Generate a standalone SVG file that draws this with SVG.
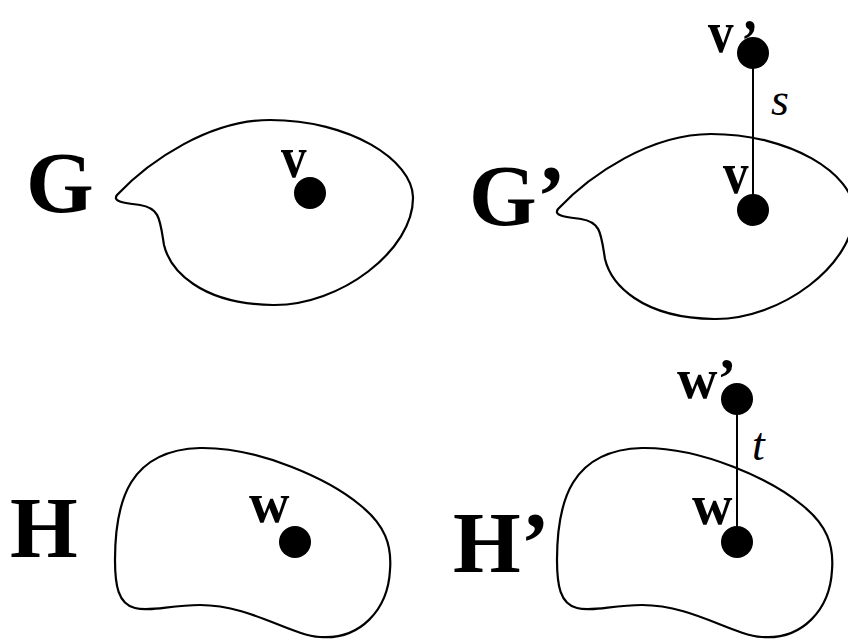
<svg xmlns="http://www.w3.org/2000/svg" width="848" height="640" viewBox="0 0 848 640">
<style>
.outline{fill:none;stroke:#000;stroke-width:2.2}
.edge{stroke:#000;stroke-width:2}
.dot{fill:#000}
.big{font-family:"Liberation Serif","Times New Roman",serif;font-weight:bold;font-size:87px;fill:#000}
.lv{font-family:"Liberation Serif","Times New Roman",serif;font-weight:bold;font-size:60px;fill:#000}
.lw{font-family:"Liberation Serif","Times New Roman",serif;font-weight:bold;font-size:56px;fill:#000}
.it{font-family:"Liberation Serif","Times New Roman",serif;font-style:italic;font-size:46px;fill:#000}
</style>
<defs>
<path id="gshape" d="M117,195 C150,160 210,120 270,120 C350,120 412,160 413,197 C414,250 340,306 273,305 C200,304 170,270 164,245 C160,220 160,208 140,205 C125,203 112,202 117,195 Z"/>
<path id="hshape" d="M115,560 C115,500 130,450 200,448 C260,447 330,480 360,505 C385,525 392,545 390,570 C388,610 360,640 320,637 C290,635 250,605 200,605 C170,605 150,612 135,608 C118,604 115,585 115,560 Z"/>
</defs>
<g id="G">
<use href="#gshape" class="outline"/>
<text class="big" x="26" y="212">G</text>
<text class="lv" transform="translate(281,177) scale(0.85,1)">v</text>
<circle class="dot" cx="310" cy="193" r="16"/>
</g>
<g id="Gprime">
<use href="#gshape" class="outline" transform="translate(441,14)"/>
<text class="big" x="469" y="225">G’</text>
</g>
<g id="H">
<use href="#hshape" class="outline"/>
<text class="big" x="10" y="557">H</text>
<text class="lw" x="249" y="522">w</text>
<circle class="dot" cx="295" cy="542" r="16"/>
</g>
<g id="Hprime">
<use href="#hshape" class="outline" transform="translate(442,0)"/>
<text class="big" x="453" y="572">H’</text>
</g>
<g id="connectors">
<line class="edge" x1="753" y1="53" x2="753" y2="210"/>
<line class="edge" x1="737" y1="399" x2="737" y2="542"/>
</g>
<g id="v">
<text class="lv" transform="translate(723,193) scale(0.85,1)">v</text>
<circle class="dot" cx="753" cy="210" r="16"/>
</g>
<g id="vprime">
<text class="lv" transform="translate(708,52) scale(0.85,1)">v<tspan dx="9" dy="8">’</tspan></text>
<circle class="dot" cx="753" cy="53" r="16"/>
</g>
<g id="w">
<text class="lw" x="692" y="524">w</text>
<circle class="dot" cx="737" cy="542" r="16"/>
</g>
<g id="wprime">
<text class="lw" x="677" y="398">w’</text>
<circle class="dot" cx="737" cy="399" r="16"/>
</g>
<g id="labels">
<text class="it" x="771" y="115">s</text>
<text class="it" x="752" y="460">t</text>
</g>
</svg>
